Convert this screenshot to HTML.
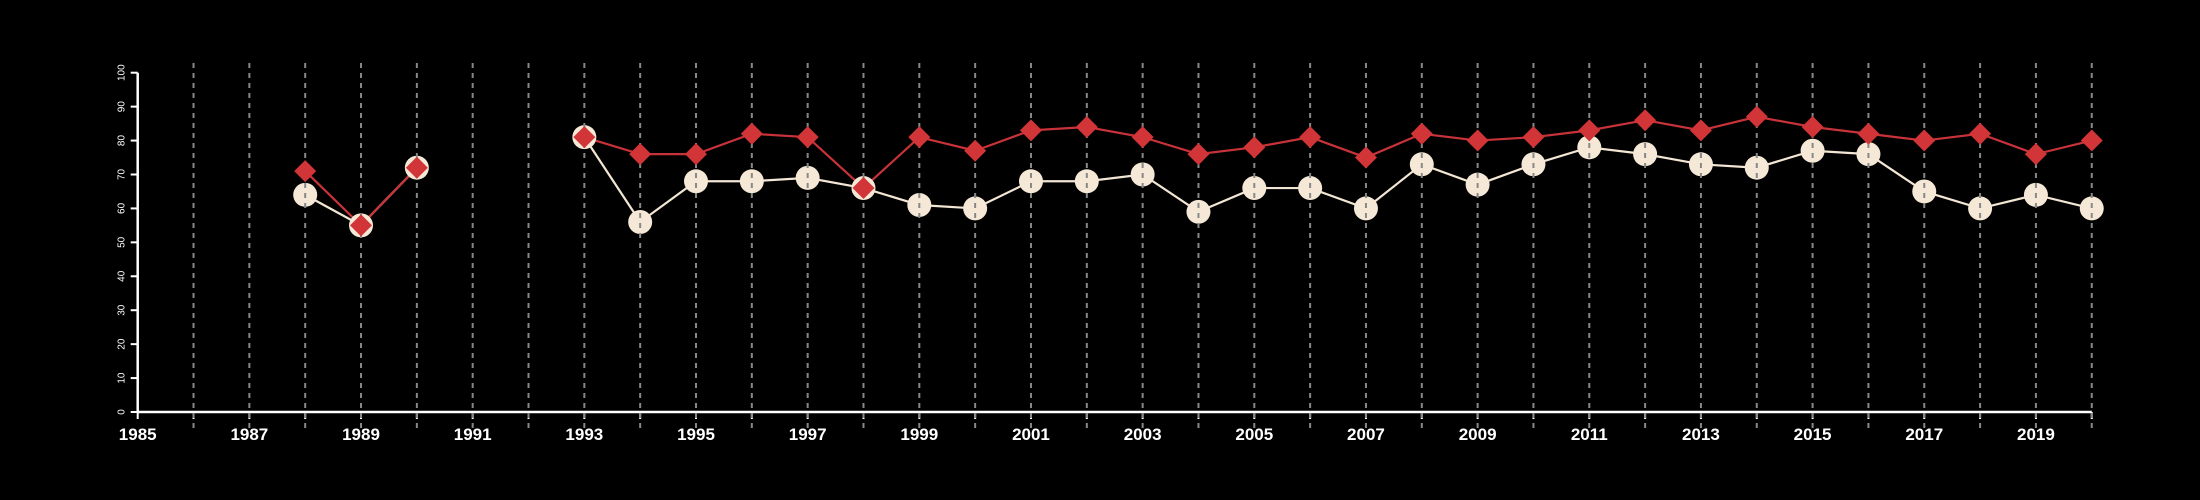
<!DOCTYPE html>
<html><head><meta charset="utf-8"><style>
html,body{margin:0;padding:0;background:#000;}
svg{display:block;font-family:"Liberation Sans",sans-serif;}
</style></head><body>
<svg id="chart" width="2200" height="500" viewBox="0 0 2200 500" xmlns="http://www.w3.org/2000/svg">
<rect width="2200" height="500" fill="#000"/>
</svg>
<script>
const years = [1988,1989,1990,1993,1994,1995,1996,1997,1998,1999,2000,2001,2002,2003,2004,2005,2006,2007,2008,2009,2010,2011,2012,2013,2014,2015,2016,2017,2018,2019,2020];
const seriesCircle = [64,55,72,81,56,68,68,69,66,61,60,68,68,70,59,66,66,60,73,67,73,78,76,73,72,77,76,65,60,64,60];
const seriesDiamond = [71,55,72,81,76,76,82,81,66,81,77,83,84,81,76,78,81,75,82,80,81,83,86,83,87,84,82,80,82,76,80];
const yTicks = [0,10,20,30,40,50,60,70,80,90,100];
const xLabels = [1985,1987,1989,1991,1993,1995,1997,1999,2001,2003,2005,2007,2009,2011,2013,2015,2017,2019];

const svg = document.getElementById('chart');
const NS = 'http://www.w3.org/2000/svg';
const x = yr => 137.7 + (yr - 1985) * 55.83;
const y = v => 412 - v * 3.393;
function mk(tag, attrs, parent){
  const e = document.createElementNS(NS, tag);
  for (const k in attrs) e.setAttribute(k, attrs[k]);
  (parent || svg).appendChild(e);
  return e;
}
// axes
const ax = mk('g', {});


mk('line', {x1:x(1985), x2:x(2020), y1:412, y2:412, stroke:'#fff', 'stroke-width':2.5}, ax);
mk('line', {x1:x(1985), x2:x(1985), y1:y(0), y2:y(100), stroke:'#fff', 'stroke-width':2.5}, ax);
for (let yr = 1985; yr <= 2020; yr++) {
  mk('line', {x1:x(yr), x2:x(yr), y1:412, y2:419, stroke:'#fff', 'stroke-width':2}, ax);
}
xLabels.forEach(l => {
  const t = mk('text', {x:x(l), y:440, fill:'#fff', 'font-size':17, 'font-weight':'bold', 'text-anchor':'middle'}, ax);
  t.textContent = l;
  
  
});
yTicks.forEach(v => {
  mk('line', {x1:x(1985)-7, x2:x(1985), y1:y(v), y2:y(v), stroke:'#fff', 'stroke-width':2}, ax);
  const t = mk('text', {x:0, y:0, fill:'#fff', 'font-size':10, 'text-anchor':'middle', transform:`translate(${x(1985)-13},${y(v)}) rotate(-90)`}, ax);
  t.textContent = v;
  
  
});
// lines
function path(vals){ return vals.map((v,i)=>{
  const gap = i>0 && years[i]-years[i-1]>1;
  return (i===0||gap?'M':'L') + x(years[i]) + ',' + y(v);
}).join(''); }
const l1 = mk('path', {d:path(seriesCircle), fill:'none', stroke:'#f3e6d4', 'stroke-width':2.2});


const l2 = mk('path', {d:path(seriesDiamond), fill:'none', stroke:'#c8333a', 'stroke-width':2.2});


// circles
seriesCircle.forEach((v,i) => {
  const c = mk('circle', {cx:x(years[i]), cy:y(v), r:12, fill:'#f5e8d6'});
  
  
});
// grid
const g = mk('g', {});


for (let yr = 1986; yr <= 2020; yr++) {
  mk('line', {x1:x(yr), x2:x(yr), y1:63, y2:428, stroke:'#888', 'stroke-width':2, 'stroke-dasharray':'5,5'}, g);
}
// diamonds
seriesDiamond.forEach((v,i) => {
  const cx = x(years[i]), cy = y(v), s = 11;
  const d = mk('polygon', {points:`${cx},${cy-s} ${cx+s},${cy} ${cx},${cy+s} ${cx-s},${cy}`, fill:'#d13538'});
  
  
});
</script>
</body></html>
